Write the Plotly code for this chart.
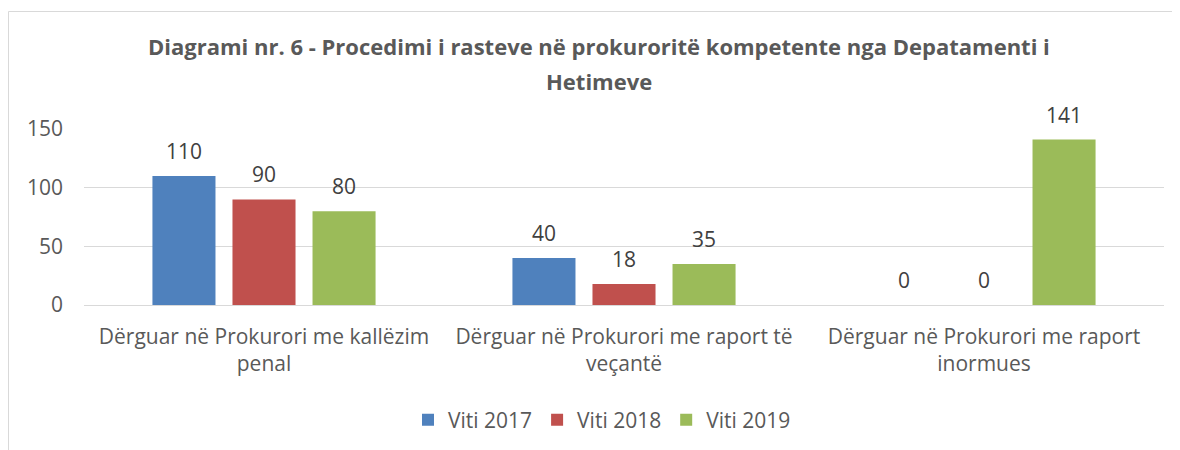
import plotly.graph_objects as go

categories = ["Dërguar në Prokurori me kallëzim<br>penal",
              "Dërguar në Prokurori me raport të<br>veçantë",
              "Dërguar në Prokurori me raport<br>inormues"]
series_names = ["Viti 2017", "Viti 2018", "Viti 2019"]
v2017 = [110, 40, 0]
v2018 = [90, 18, 0]
v2019 = [80, 35, 141]
colors = ["#4F81BD", "#C0504D", "#9BBB59"]
y_ticks = [0, 50, 100, 150]
title_lines = ["Diagrami nr. 6 - Procedimi i rasteve në prokuroritë kompetente nga Depatamenti i",
               "Hetimeve"]

FONT = "Open Sans"
FS = 21
# plot area in figure px (figure is shown offset by 8px body margin)
L, R, T, B = 76, 24, 121, 153
PW, PH = 1180 - L - R, 450 - T - B

fig = go.Figure()
all_vals = [v2017, v2018, v2019]
for name, vals, c in zip(series_names, all_vals, colors):
    fig.add_trace(go.Bar(
        name=name, x=categories, y=vals, marker=dict(color=c, line=dict(width=0)),
        hoverinfo="x+y",
    ))

# data labels above bars (through data coordinates; shifted to grouped bar slots)
slot = PW / 3 * (1 - 0.333) / 3
for i, vals in enumerate(all_vals):
    for cat, v in zip(categories, vals):
        fig.add_annotation(x=cat, y=v, xref="x", yref="y", text=str(v), showarrow=False,
                           xshift=(i - 1) * slot, yshift=25, yanchor="middle",
                           font=dict(size=FS, color="#404040", family=FONT))

# title lines
for k, (line, ypx) in enumerate(zip(title_lines, [38, 73])):
    fig.add_annotation(x=(591 - L) / PW, y=(450 - B - ypx) / PH, xref="paper", yref="paper",
                       text="<b>" + line + "</b>", showarrow=False,
                       xanchor="center", yanchor="middle",
                       font=dict(size=22, color="#595959", family=FONT))

fig.update_layout(
    width=1180, height=450,
    margin=dict(l=L, r=R, t=T, b=B),
    paper_bgcolor="white", plot_bgcolor="white",
    barmode="group", bargap=0.333, bargroupgap=0.2125,
    font=dict(family=FONT, color="#595959", size=FS),
    showlegend=True,
    legend=dict(orientation="h", x=594 / 1180, xanchor="center", xref="container",
                y=1 - 412 / 450, yanchor="middle", yref="container",
                font=dict(size=FS, color="#595959"), itemwidth=30,
                traceorder="normal"),
)
fig.update_xaxes(showgrid=False, showline=False, ticks="", ticklabelstandoff=17,
                 tickfont=dict(size=FS, color="#595959"))
fig.update_yaxes(range=[0, 150], tickvals=y_ticks, showgrid=True, gridcolor="#D9D9D9",
                 gridwidth=1, zeroline=True, zerolinecolor="#D9D9D9", zerolinewidth=1,
                 showline=False, ticks="", ticklabelstandoff=20,
                 tickfont=dict(size=FS, color="#595959"))

fig.add_shape(type="rect", xref="paper", yref="paper",
              x0=(0.5 - L) / PW, x1=(1200 - L) / PW,
              y0=-(B + 30) / PH, y1=1 + (T - 3.5) / PH,
              line=dict(color="#D9D9D9", width=1), fillcolor="rgba(0,0,0,0)", layer="below")

fig.write_html("out.html")
